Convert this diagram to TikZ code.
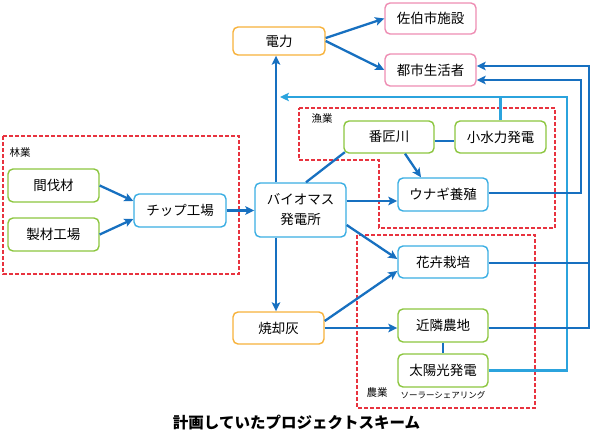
\documentclass[tikz,border=0pt]{standalone}
\usepackage{fontspec}
\setmainfont{Noto Sans CJK JP}
\usetikzlibrary{arrows.meta,calc}
\definecolor{darkarr}{HTML}{1770C0}
\definecolor{lightarr}{HTML}{2BA3DD}
\definecolor{cOrange}{HTML}{F7B23B}
\definecolor{cPink}{HTML}{EE8DB3}
\definecolor{cGreen}{HTML}{8CC63F}
\definecolor{cBlue}{HTML}{3AAEE3}
\definecolor{cRed}{HTML}{E8333F}
\tikzset{
  box/.style={draw, line width=1.4pt, rounded corners=5pt, fill=white, font=\fontsize{13.5}{15}\selectfont, inner sep=0pt, align=center},
  obox/.style={box, draw=cOrange},
  pbox/.style={box, draw=cPink},
  gbox/.style={box, draw=cGreen},
  bbox/.style={box, draw=cBlue},
  arr/.style={draw=darkarr, line width=2.3pt, -{Stealth[length=9pt,width=8.5pt,inset=2pt]}},
  dline/.style={draw=darkarr, line width=2.3pt},
  larr/.style={draw=lightarr, line width=2.3pt, -{Stealth[length=9pt,width=8.5pt,inset=2pt]}},
  lline/.style={draw=lightarr, line width=2.3pt},
  region/.style={draw=cRed, line width=1.3pt, dash pattern=on 4pt off 2pt},
  grp/.style={font=\fontsize{10.5}{12}\selectfont, inner sep=0pt},
}
\begin{document}
\begin{tikzpicture}[x=1pt,y=-1pt]
\useasboundingbox (0,0) rectangle (595,436);
% regions
\draw[region] (3,136) rectangle (239,274);
\draw[region] (299,108) -- (555,108) -- (555,228) -- (379,228) -- (379,160) -- (299,160) -- cycle;
\draw[region] (357,235) rectangle (535,408);
\node[grp] (lgF) at (20,153) {林業};
\node[grp] (lgG) at (322,119) {漁業};
\node[grp] (lgN) at (377,393) {農業};
\node[font=\fontsize{8.5}{10}\selectfont, inner sep=0pt] (solar) at (443,395) {ソーラーシェアリング};
% nodes
\node[obox, minimum width=92pt, minimum height=28pt] (denryoku) at (279,41) {電力};
\node[pbox, minimum width=91pt, minimum height=31pt] (saiki) at (430.5,18.5) {佐伯市施設};
\node[pbox, minimum width=91pt, minimum height=32pt] (toshi) at (430.5,70) {都市生活者};
\node[gbox, minimum width=90pt, minimum height=32pt] (bansho) at (389,137) {番匠川};
\node[gbox, minimum width=91pt, minimum height=32pt] (shosui) at (500.5,137) {小水力発電};
\node[bbox, minimum width=90pt, minimum height=33pt] (unagi) at (443,194.5) {ウナギ養殖};
\node[bbox, minimum width=91pt, minimum height=54pt] (biomass) at (300.5,210) {バイオマス\\[5pt]発電所};
\node[bbox, minimum width=90pt, minimum height=32pt] (kaki) at (443,262) {花卉栽培};
\node[gbox, minimum width=90pt, minimum height=33pt] (kinrin) at (443,325.5) {近隣農地};
\node[gbox, minimum width=90pt, minimum height=33pt] (taiyo) at (443,370.5) {太陽光発電};
\node[obox, minimum width=91pt, minimum height=32pt] (shokyaku) at (278.5,328) {焼却灰};
\node[gbox, minimum width=91pt, minimum height=33pt] (kanbatsu) at (53.5,185.5) {間伐材};
\node[gbox, minimum width=91pt, minimum height=33pt] (seizai) at (53.5,234.5) {製材工場};
\node[bbox, minimum width=92pt, minimum height=33pt] (chip) at (180,210.5) {チップ工場};
\node[font=\fontsize{15.5}{17}\selectfont\bfseries, inner sep=0pt] (title) at (296.5,423) {計画していたプロジェクトスキーム};
% helper coordinates
\coordinate (vx) at (276,0);
\coordinate (ay) at (0,201);
\coordinate (lb) at (567,97);
\coordinate (la) at (280,97);
\coordinate (r1) at (589,66);
\coordinate (r2) at (581,80);
% connectors
\draw[arr] ([yshift=3pt]denryoku.east) -- (saiki.west);
\draw[arr] (denryoku.east) -- (toshi.west);
\draw[arr] (biomass.north -| vx) -- (denryoku.south -| vx);
\draw[arr] (biomass.south -| vx) -- (shokyaku.north -| vx);
\draw[arr] (biomass.east |- ay) -- (unagi.west |- ay);
\draw[dline] ([xshift=5.5pt]biomass.north) -- ([shift={(1.5pt,1.5pt)}]bansho.south west);
\draw[arr] ([xshift=16pt]bansho.south) -- ([xshift=-22pt]unagi.north);
\draw[dline] ([yshift=-4pt]bansho.east) -- ([yshift=-4pt]shosui.west);
\draw[lline] (shosui.north) -- (shosui.north |- lb);
\draw[larr] (taiyo.east) -| (lb) -- (la);
\draw[arr] ([yshift=-2.5pt]kinrin.east) -| (r1) -- (toshi.east |- r1);
\draw[dline] ([yshift=-1pt]kaki.east) -- ([yshift=-1pt]kaki.east -| r1);
\draw[arr] ([yshift=1.5pt]unagi.east) -| (r2) -- (toshi.east |- r2);
\draw[arr] ([yshift=7pt]shokyaku.east) -- ([yshift=-9pt]kaki.west);
\draw[arr] (shokyaku.east) -- (kinrin.west |- shokyaku.east);
\draw[arr] ([yshift=-15pt]biomass.east) -- ([yshift=3pt]kaki.west);
\draw[dline] (kinrin.south) -- (taiyo.north);
\draw[arr] (chip.east) -- (biomass.west |- chip.east);
\draw[arr] (kanbatsu.east) -- ([yshift=9.5pt]chip.west);
\draw[arr] (seizai.east) -- ([yshift=-8.5pt]chip.west);
\end{tikzpicture}
\end{document}
